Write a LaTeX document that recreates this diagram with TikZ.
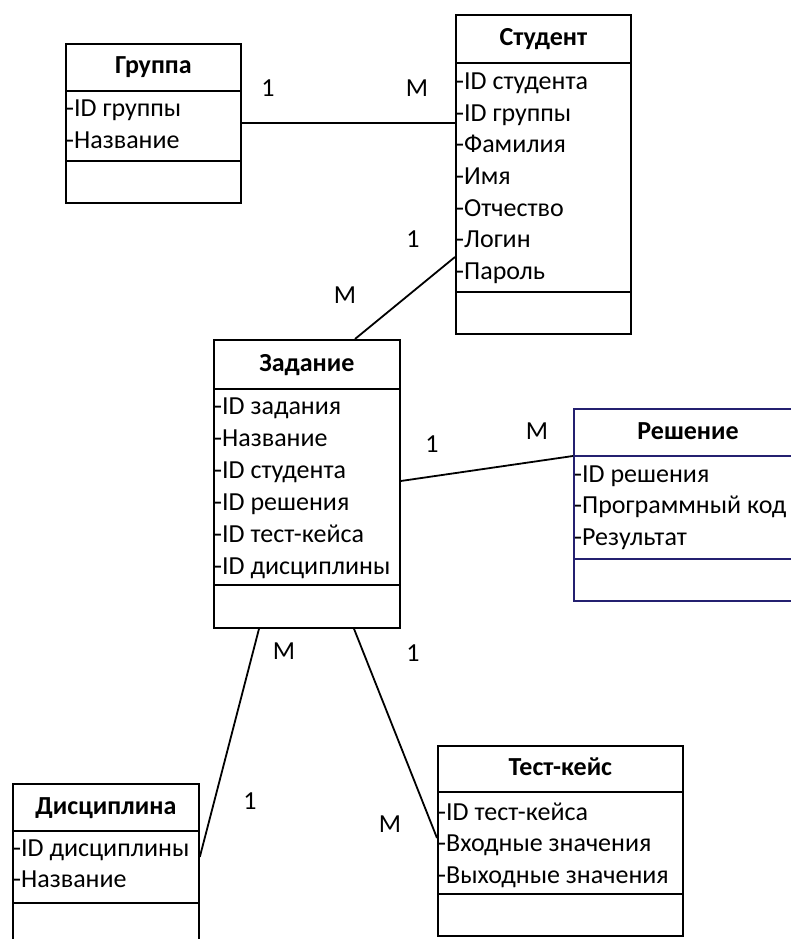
\documentclass[tikz,border=0pt]{standalone}
\usepackage{fontspec}
\setmainfont{Carlito}
\usetikzlibrary{calc}
\definecolor{navy}{RGB}{36,32,112}

\begin{document}
\begin{tikzpicture}[x=1pt,y=-1pt,
  ent/.style={draw, line width=1.8pt, anchor=north west, inner sep=0pt, fill=white},
  sep/.style={line width=1.8pt},
  txt/.style={font=\fontsize{26}{31}\selectfont, text height=20pt, text depth=6pt, inner ysep=0pt},
  title/.style={txt, font=\fontsize{26}{31}\selectfont\bfseries, inner xsep=0pt},
  attr/.style={txt, anchor=west, inner xsep=1pt},
  card/.style={txt, inner xsep=0pt},
  link/.style={line width=1.8pt}]

\clip (0,0) rectangle (791,939);
\fill[white] (0,0) rectangle (791,939);

% entity frames
\node[ent, minimum width=175pt, minimum height=159pt] (grp) at (65,43) {};
\node[ent, minimum width=175pt, minimum height=319pt] (stu) at (455,14) {};
\node[ent, minimum width=186pt, minimum height=288pt] (zad) at (213,339) {};
\node[ent, draw=navy, minimum width=240pt, minimum height=192pt] (res) at (573,408) {};
\node[ent, minimum width=186pt, minimum height=200pt] (dis) at (12,783) {};
\node[ent, minimum width=245pt, minimum height=190pt] (tst) at (437,745) {};

% Группа
\draw[sep] ($(grp.north west)+(0,48)$) -- ($(grp.north east)+(0,48)$);
\draw[sep] ($(grp.north west)+(0,118)$) -- ($(grp.north east)+(0,118)$);
\node[title] (grp-t) at ($(grp.north)+(0,24)$) {Группа};
\node[attr] (grp-a1) at ($(grp.north west)+(0,67)$) {-ID группы};
\node[attr] (grp-a2) at ($(grp.north west)+(0,98)$) {-Название};

% Студент
\draw[sep] ($(stu.north west)+(0,49)$) -- ($(stu.north east)+(0,49)$);
\draw[sep] ($(stu.north west)+(0,278)$) -- ($(stu.north east)+(0,278)$);
\node[title] (stu-t) at ($(stu.north)+(0,25)$) {Студент};
\node[attr] (stu-a1) at ($(stu.north west)+(0,69)$) {-ID студента};
\node[attr] (stu-a2) at ($(stu.north west)+(0,100.5)$) {-ID группы};
\node[attr] (stu-a3) at ($(stu.north west)+(0,132)$) {-Фамилия};
\node[attr] (stu-a4) at ($(stu.north west)+(0,163.5)$) {-Имя};
\node[attr] (stu-a5) at ($(stu.north west)+(0,195)$) {-Отчество};
\node[attr] (stu-a6) at ($(stu.north west)+(0,226.5)$) {-Логин};
\node[attr] (stu-a7) at ($(stu.north west)+(0,258)$) {-Пароль};

% Задание
\draw[sep] ($(zad.north west)+(0,50)$) -- ($(zad.north east)+(0,50)$);
\draw[sep] ($(zad.north west)+(0,246)$) -- ($(zad.north east)+(0,246)$);
\node[title] (zad-t) at ($(zad.north)+(0,25)$) {Задание};
\node[attr] (zad-a1) at ($(zad.north west)+(0,68)$) {-ID задания};
\node[attr] (zad-a2) at ($(zad.north west)+(0,100)$) {-Название};
\node[attr] (zad-a3) at ($(zad.north west)+(0,132)$) {-ID студента};
\node[attr] (zad-a4) at ($(zad.north west)+(0,164)$) {-ID решения};
\node[attr] (zad-a5) at ($(zad.north west)+(0,196)$) {-ID тест-кейса};
\node[attr] (zad-a6) at ($(zad.north west)+(0,228)$) {-ID дисциплины};

% Решение
\draw[sep, navy] ($(res.north west)+(0,48)$) -- ($(res.north east)+(0,48)$);
\draw[sep, navy] ($(res.north west)+(0,151)$) -- ($(res.north east)+(0,151)$);
\node[title] (res-t) at ($(res.north west)+(115,24)$) {Решение};
\node[attr] (res-a1) at ($(res.north west)+(0,67)$) {-ID решения};
\node[attr] (res-a2) at ($(res.north west)+(0,98.5)$) {-Программный код};
\node[attr] (res-a3) at ($(res.north west)+(0,130)$) {-Результат};

% Дисциплина
\draw[sep] ($(dis.north west)+(0,48)$) -- ($(dis.north east)+(0,48)$);
\draw[sep] ($(dis.north west)+(0,120)$) -- ($(dis.north east)+(0,120)$);
\node[title] (dis-t) at ($(dis.north)+(0,24)$) {Дисциплина};
\node[attr] (dis-a1) at ($(dis.north west)+(0,66)$) {-ID дисциплины};
\node[attr] (dis-a2) at ($(dis.north west)+(0,97)$) {-Название};

% Тест-кейс
\draw[sep] ($(tst.north west)+(0,47)$) -- ($(tst.north east)+(0,47)$);
\draw[sep] ($(tst.north west)+(0,149)$) -- ($(tst.north east)+(0,149)$);
\node[title] (tst-t) at ($(tst.north)+(0,23)$) {Тест-кейс};
\node[attr] (tst-a1) at ($(tst.north west)+(0,68)$) {-ID тест-кейса};
\node[attr] (tst-a2) at ($(tst.north west)+(0,99.5)$) {-Входные значения};
\node[attr] (tst-a3) at ($(tst.north west)+(0,131)$) {-Выходные значения};

% relationships
\draw[link] (grp.east) -- (grp.east -| stu.west);
\draw[link] ($(stu.north west)+(0,243)$) -- ($(zad.north west)+(142,0)$);
\draw[link] ($(zad.north east)+(0,142)$) -- ($(res.north west)+(0,48)$);
\draw[link] ($(zad.south west)+(46,0)$) -- ($(dis.north east)+(0,74)$);
\draw[link] ($(zad.south west)+(141,0)$) -- ($(tst.north west)+(0,93)$);

% cardinalities
\node[card] (c1) at (268,90) {1};
\node[card] (c2) at (417,90) {M};
\node[card] (c3) at (413,240) {1};
\node[card] (c4) at (345,296) {M};
\node[card] (c5) at (432,445) {1};
\node[card] (c6) at (537,432) {M};
\node[card] (c7) at (284,652) {M};
\node[card] (c8) at (413,654) {1};
\node[card] (c9) at (250,802) {1};
\node[card] (c10) at (390,825) {M};
\end{tikzpicture}
\end{document}
